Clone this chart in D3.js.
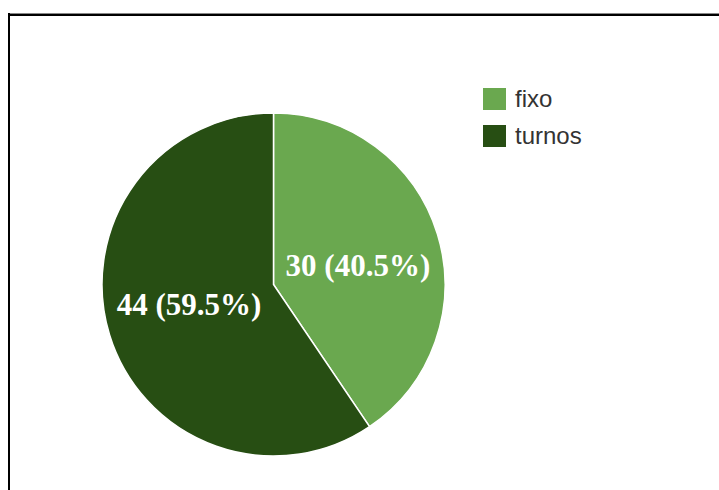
<!DOCTYPE html>
<html><head><meta charset="utf-8">
<script src="https://cdn.jsdelivr.net/npm/d3@7"></script>
<style>html,body{margin:0;padding:0;background:#fff;}svg{display:block;}</style>
</head><body>
<script>
const categories = ["fixo", "turnos"];
const values = [30, 44];
const colors = ["#6aa84f", "#274e13"];

const W = 719, H = 490;
const svg = d3.select("body").append("svg").attr("width", W).attr("height", H);

// frame
svg.append("line").attr("x1", 8).attr("x2", W).attr("y1", 13.5).attr("y2", 13.5).attr("stroke", "#888").attr("stroke-width", 1);
svg.append("line").attr("x1", 8).attr("x2", W).attr("y1", 15).attr("y2", 15).attr("stroke", "#000").attr("stroke-width", 2);
svg.append("line").attr("x1", 9).attr("x2", 9).attr("y1", 13).attr("y2", H).attr("stroke", "#000").attr("stroke-width", 2);

const cx = 273.5, cy = 284.5, r = 171.5;
const total = d3.sum(values);
const pie = d3.pie().sort(null).value(d => d.v);
const arcs = pie(categories.map((c, i) => ({c, v: values[i], col: colors[i]})));
const arc = d3.arc().innerRadius(0).outerRadius(r);
const labelArc = d3.arc().innerRadius(r * 0.5).outerRadius(r * 0.5);

const g = svg.append("g").attr("transform", `translate(${cx},${cy})`);
g.selectAll("path").data(arcs).enter().append("path")
  .attr("d", arc).attr("fill", d => d.data.col)
  .attr("stroke", "#fff").attr("stroke-width", 1.5);

const fmt = d3.format(".1%");
g.selectAll("text").data(arcs).enter().append("text")
  .attr("transform", d => { const c = labelArc.centroid(d); return `translate(${c[0] * 1.03},${c[1] * 0.77})`; })
  .attr("text-anchor", "middle").attr("dy", "0.35em")
  .attr("fill", "#fff")
  .style("font-family", "'Liberation Serif','Times New Roman',serif")
  .style("font-weight", "bold").style("font-size", "31px")
  .text(d => `${d.data.v} (${fmt(d.data.v / total)})`);

// legend
const lg = svg.append("g");
const items = lg.selectAll("g").data(categories).enter().append("g")
  .attr("transform", (d, i) => `translate(483,${88 + i * 37})`);
items.append("rect").attr("width", 23).attr("height", 22).attr("fill", (d, i) => colors[i]);
items.append("text").attr("x", 32).attr("y", 19)
  .style("font-family", "'Liberation Sans',Arial,sans-serif").style("font-size", "24px")
  .attr("fill", "#333").text(d => d);
</script>
</body></html>
